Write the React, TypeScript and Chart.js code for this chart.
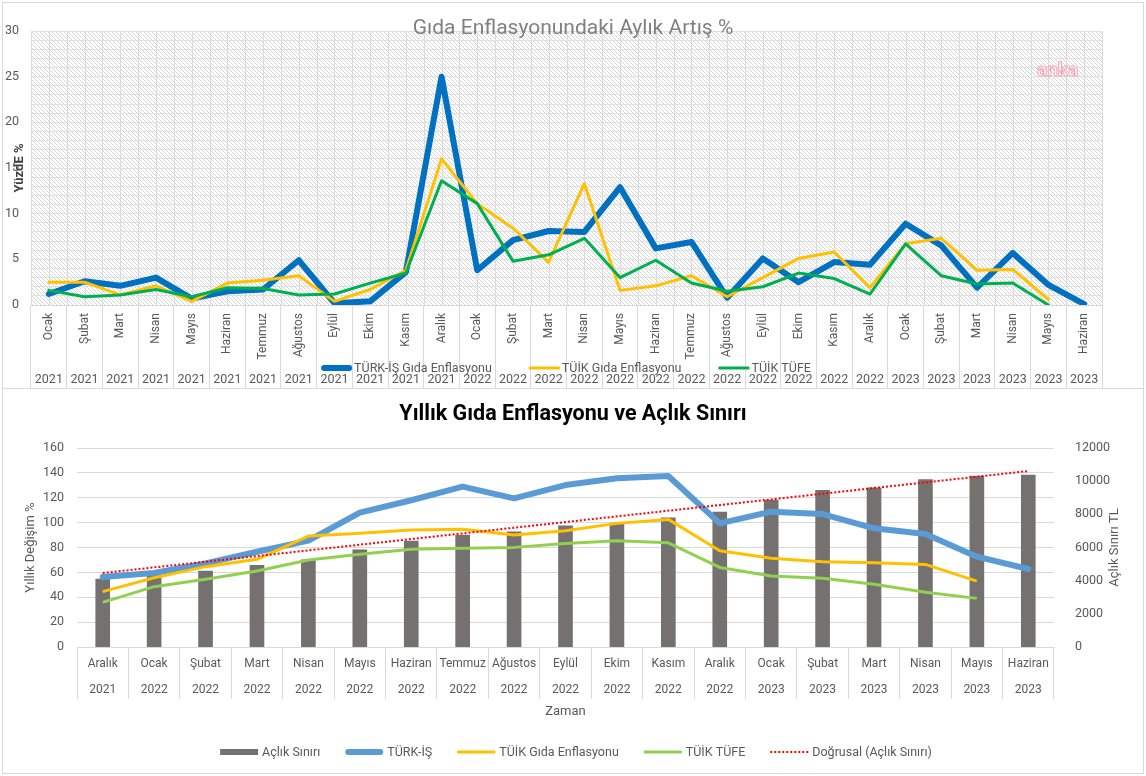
import React, { useEffect, useRef } from "react";
import { Chart, registerables } from "chart.js";

Chart.register(...registerables);
Chart.defaults.font.family = "Roboto, 'Noto Sans', sans-serif";

// ---------- Top chart data (monthly % change) ----------
const topMonths = [
  "Ocak", "Şubat", "Mart", "Nisan", "Mayıs", "Haziran", "Temmuz", "Ağustos", "Eylül", "Ekim", "Kasım", "Aralık",
  "Ocak", "Şubat", "Mart", "Nisan", "Mayıs", "Haziran", "Temmuz", "Ağustos", "Eylül", "Ekim", "Kasım", "Aralık",
  "Ocak", "Şubat", "Mart", "Nisan", "Mayıs", "Haziran",
];
const topYears = [
  "2021", "2021", "2021", "2021", "2021", "2021", "2021", "2021", "2021", "2021", "2021", "2021",
  "2022", "2022", "2022", "2022", "2022", "2022", "2022", "2022", "2022", "2022", "2022", "2022",
  "2023", "2023", "2023", "2023", "2023", "2023",
];
const turkIsMonthly = [
  1.2, 2.6, 2.1, 3.0, 0.7, 1.5, 1.7, 4.9, 0.2, 0.4, 3.6, 25.0,
  3.8, 7.1, 8.1, 8.0, 12.9, 6.2, 6.9, 0.8, 5.1, 2.5, 4.7, 4.4,
  8.9, 6.5, 1.9, 5.7, 2.2, 0.1,
];
const tuikFoodMonthly = [
  2.5, 2.5, 1.1, 2.1, 0.4, 2.4, 2.7, 3.2, 0.4, 1.7, 3.8, 16.0,
  11.1, 8.4, 4.7, 13.3, 1.6, 2.1, 3.2, 0.9, 3.0, 5.1, 5.8, 1.9,
  6.7, 7.3, 3.8, 3.9, 0.6, null,
];
const tuikCpiMonthly = [
  1.6, 0.9, 1.1, 1.7, 0.9, 1.9, 1.8, 1.1, 1.2, 2.4, 3.5, 13.6,
  11.1, 4.8, 5.5, 7.3, 3.0, 4.9, 2.4, 1.5, 2.0, 3.5, 2.9, 1.2,
  6.7, 3.2, 2.3, 2.4, 0.0, null,
];

// ---------- Bottom chart data (annual % change & hunger line) ----------
const botMonths = [
  "Aralık", "Ocak", "Şubat", "Mart", "Nisan", "Mayıs", "Haziran", "Temmuz", "Ağustos", "Eylül",
  "Ekim", "Kasım", "Aralık", "Ocak", "Şubat", "Mart", "Nisan", "Mayıs", "Haziran",
];
const botYears = [
  "2021", "2022", "2022", "2022", "2022", "2022", "2022", "2022", "2022", "2022",
  "2022", "2022", "2022", "2023", "2023", "2023", "2023", "2023", "2023",
];
const hungerLine = [
  4100, 4340, 4580, 4930, 5250, 5860, 6390, 6750, 6940, 7300,
  7480, 7790, 8130, 8860, 9440, 9600, 10090, 10310, 10360,
];
const turkIsAnnual = [
  56.3, 59.5, 67.2, 76.6, 85.5, 108.0, 118.0, 128.9, 119.5, 130.2,
  135.6, 137.5, 99.4, 108.8, 106.9, 95.4, 90.8, 72.6, 62.7,
];
const tuikFoodAnnual = [
  44.5, 55.7, 64.6, 70.5, 89.2, 91.4, 94.0, 94.6, 90.0, 93.5,
  99.4, 102.6, 77.4, 71.3, 68.6, 67.8, 66.4, 53.0, null,
];
const tuikCpiAnnual = [
  35.9, 48.5, 54.4, 61.1, 69.9, 74.5, 78.5, 79.3, 80.1, 83.3,
  85.4, 83.8, 64.0, 57.1, 55.2, 50.4, 44.0, 39.1, null,
];
const trendHunger = [
  4460, null, null, null, null, null, null, null, null, null,
  null, null, null, null, null, null, null, null, 10610,
];

const AXIS_COLOR = "#595959";
const GRID = "#d9d9d9";

function makeHatch(): CanvasPattern | string {
  const p = document.createElement("canvas");
  p.width = 8;
  p.height = 8;
  const c = p.getContext("2d");
  if (!c) return "#f4f4f4";
  c.fillStyle = "#ffffff";
  c.fillRect(0, 0, 8, 8);
  c.fillStyle = "#d6d6d6";
  for (let i = 0; i < 8; i++) {
    c.fillRect(i, i, 1, 1);
    c.fillRect(i, (i + 4) % 8, 1, 1);
  }
  const pat = c.createPattern(p, "repeat");
  return pat || "#f4f4f4";
}

type LegendOpts = {
  cx: number;
  cy: number;
  font: string;
  swatch: number;
  textGap: number;
  itemGap: number;
  color: string;
};

function drawLegend(chart: any, o: LegendOpts) {
  const ctx: CanvasRenderingContext2D = chart.ctx;
  ctx.save();
  ctx.font = o.font;
  const items = chart.data.datasets.map((ds: any) => ({ ds, w: ctx.measureText(ds.label).width }));
  const total =
    items.reduce((s: number, it: any) => s + o.swatch + o.textGap + it.w, 0) + o.itemGap * (items.length - 1);
  let x = o.cx - total / 2;
  ctx.textBaseline = "middle";
  ctx.textAlign = "left";
  for (const it of items) {
    const ds = it.ds;
    if (ds.type === "bar") {
      ctx.fillStyle = ds.backgroundColor;
      ctx.fillRect(x, o.cy - 3, o.swatch, 6);
    } else {
      const thick = ds.borderWidth > 4;
      ctx.strokeStyle = ds.borderColor;
      ctx.lineWidth = ds.borderWidth;
      ctx.setLineDash(ds.borderDash || []);
      ctx.lineCap = thick ? "round" : "butt";
      const inset = thick ? ds.borderWidth / 2 : 0;
      ctx.beginPath();
      ctx.moveTo(x + inset, o.cy);
      ctx.lineTo(x + o.swatch - inset, o.cy);
      ctx.stroke();
      ctx.setLineDash([]);
    }
    ctx.fillStyle = o.color;
    ctx.fillText(ds.label, x + o.swatch + o.textGap, o.cy + 1);
    x += o.swatch + o.textGap + it.w + o.itemGap;
  }
  ctx.restore();
}

export default function App() {
  const topRef = useRef<HTMLCanvasElement>(null);
  const botRef = useRef<HTMLCanvasElement>(null);

  useEffect(() => {
    document.body.style.margin = "0";
    const hatch = makeHatch();

    const topDecor = {
      id: "topDecor",
      beforeDraw(chart: any) {
        const { ctx, chartArea: a } = chart;
        ctx.save();
        ctx.fillStyle = "#ffffff";
        ctx.fillRect(0, 0, chart.width, chart.height);
        ctx.fillStyle = hatch;
        ctx.fillRect(a.left, a.top, a.right - a.left, a.bottom - a.top);
        const n = chart.data.labels.length;
        const w = (a.right - a.left) / n;
        ctx.strokeStyle = "#dcdcdc";
        ctx.lineWidth = 1;
        for (let i = 0; i <= 2 * n; i++) {
          const x = Math.round(a.left + (i * w) / 2) + 0.5;
          ctx.beginPath();
          ctx.moveTo(x, a.top);
          ctx.lineTo(x, a.bottom);
          ctx.stroke();
        }
        ctx.restore();
      },
      afterDraw(chart: any) {
        const ctx: CanvasRenderingContext2D = chart.ctx;
        ctx.save();
        // title
        ctx.font = "21px Roboto, 'Noto Sans', sans-serif";
        ctx.fillStyle = "#808080";
        ctx.textAlign = "center";
        ctx.textBaseline = "middle";
        ctx.fillText("Gıda Enflasyonundaki Aylık Artış %", 573, 29);
        // watermark
        ctx.font = "bold 19px Roboto, 'Noto Sans', sans-serif";
        ctx.textAlign = "left";
        ctx.textBaseline = "alphabetic";
        ctx.fillStyle = "rgba(255,255,255,0.9)";
        ctx.fillText("anka", 1037, 76);
        ctx.strokeStyle = "#f2a5b5";
        ctx.lineWidth = 1;
        ctx.strokeText("anka", 1037, 76);
        ctx.restore();
        drawLegend(chart, {
          cx: 566,
          cy: 368,
          font: "12.5px Roboto, 'Noto Sans', sans-serif",
          swatch: 31,
          textGap: 2,
          itemGap: 37,
          color: AXIS_COLOR,
        });
      },
    };

    const topChart = new Chart(topRef.current as HTMLCanvasElement, {
      type: "line",
      data: {
        labels: topMonths,
        datasets: [
          {
            label: "TÜRK-İŞ Gıda Enflasyonu",
            data: turkIsMonthly,
            borderColor: "#0070c0",
            backgroundColor: "#0070c0",
            borderWidth: 6,
            pointRadius: 0,
            borderJoinStyle: "round",
            borderCapStyle: "round",
            order: 3,
          },
          {
            label: "TÜİK Gıda Enflasyonu",
            data: tuikFoodMonthly,
            borderColor: "#ffc000",
            backgroundColor: "#ffc000",
            borderWidth: 3,
            pointRadius: 0,
            borderJoinStyle: "round",
            borderCapStyle: "round",
            order: 2,
          },
          {
            label: "TÜİK TÜFE",
            data: tuikCpiMonthly,
            borderColor: "#00b050",
            backgroundColor: "#00b050",
            borderWidth: 3,
            pointRadius: 0,
            borderJoinStyle: "round",
            borderCapStyle: "round",
            order: 1,
          },
        ],
      } as any,
      options: {
        responsive: false,
        animation: false,
        events: [],
        layout: { autoPadding: false, padding: { top: 31, right: 44, left: 0, bottom: 0 } },
        plugins: { legend: { display: false }, tooltip: { enabled: false } },
        scales: {
          x: {
            type: "category",
            offset: true,
            grid: { offset: true, drawOnChartArea: false, drawTicks: true, tickLength: 83, color: GRID },
            border: { display: true, color: GRID },
            ticks: {
              autoSkip: false,
              maxRotation: 90,
              minRotation: 90,
              padding: -75,
              color: AXIS_COLOR,
              font: { size: 12 },
            },
            afterFit: (s: any) => {
              s.height = 60;
            },
          },
          x2: {
            type: "category",
            labels: topYears,
            position: "bottom",
            offset: true,
            grid: { display: false, drawTicks: false, tickLength: 0 },
            border: { display: false },
            ticks: { autoSkip: false, maxRotation: 0, padding: 7, color: AXIS_COLOR, font: { size: 12.5 } },
            afterFit: (s: any) => {
              s.height = 25;
            },
          },
          y: {
            min: 0,
            max: 30,
            grid: { color: "#e0e0e0", drawTicks: false },
            border: { display: false },
            ticks: {
              stepSize: 1,
              autoSkip: false,
              padding: 12,
              color: AXIS_COLOR,
              font: { size: 12.5 },
              callback: (v: any) => (Number(v) % 5 === 0 ? String(v) : ""),
            },
            title: {
              display: true,
              text: "YüzdE %",
              color: "#404040",
              font: { size: 13, weight: "bold" },
              padding: { top: 12, bottom: 0 },
            },
            afterFit: (s: any) => {
              s.width = 31;
            },
          },
        },
      } as any,
      plugins: [topDecor],
    });

    const botDecor = {
      id: "botDecor",
      beforeDraw(chart: any) {
        const { ctx } = chart;
        ctx.save();
        ctx.fillStyle = "#ffffff";
        ctx.fillRect(0, 0, chart.width, chart.height);
        ctx.restore();
      },
      afterDraw(chart: any) {
        const ctx: CanvasRenderingContext2D = chart.ctx;
        const a = chart.chartArea;
        ctx.save();
        ctx.font = "bold 21.5px Roboto, 'Noto Sans', sans-serif";
        ctx.fillStyle = "#000000";
        ctx.textAlign = "center";
        ctx.textBaseline = "middle";
        ctx.fillText("Yıllık Gıda Enflasyonu ve Açlık Sınırı", 573, 27);
        // right axis title (reads bottom-to-top)
        ctx.translate(1115, (a.top + a.bottom) / 2);
        ctx.rotate(-Math.PI / 2);
        ctx.font = "13px Roboto, 'Noto Sans', sans-serif";
        ctx.fillStyle = AXIS_COLOR;
        ctx.fillText("Açlık Sınırı TL", 0, 0);
        ctx.restore();
        drawLegend(chart, {
          cx: 576,
          cy: 364,
          font: "12.5px Roboto, 'Noto Sans', sans-serif",
          swatch: 38,
          textGap: 4,
          itemGap: 25,
          color: AXIS_COLOR,
        });
      },
    };

    const botChart = new Chart(botRef.current as HTMLCanvasElement, {
      type: "bar",
      data: {
        labels: botMonths.map((m, i) => [m, botYears[i]]),
        datasets: [
          {
            type: "bar",
            label: "Açlık Sınırı",
            data: hungerLine,
            yAxisID: "y1",
            backgroundColor: "#767171",
            barThickness: 14,
            order: 5,
          },
          {
            type: "line",
            label: "TÜRK-İŞ",
            data: turkIsAnnual,
            yAxisID: "y",
            borderColor: "#5b9bd5",
            backgroundColor: "#5b9bd5",
            borderWidth: 6,
            pointRadius: 0,
            borderJoinStyle: "round",
            borderCapStyle: "round",
            order: 4,
          },
          {
            type: "line",
            label: "TÜİK Gıda Enflasyonu",
            data: tuikFoodAnnual,
            yAxisID: "y",
            borderColor: "#ffc000",
            backgroundColor: "#ffc000",
            borderWidth: 3,
            pointRadius: 0,
            borderJoinStyle: "round",
            order: 3,
          },
          {
            type: "line",
            label: "TÜİK TÜFE",
            data: tuikCpiAnnual,
            yAxisID: "y",
            borderColor: "#92d050",
            backgroundColor: "#92d050",
            borderWidth: 3,
            pointRadius: 0,
            borderJoinStyle: "round",
            order: 2,
          },
          {
            type: "line",
            label: "Doğrusal (Açlık Sınırı)",
            data: trendHunger,
            yAxisID: "y1",
            spanGaps: true,
            borderColor: "#ff0000",
            backgroundColor: "#ff0000",
            borderWidth: 2,
            borderDash: [2, 2],
            pointRadius: 0,
            order: 1,
          },
        ],
      } as any,
      options: {
        responsive: false,
        animation: false,
        events: [],
        layout: { autoPadding: false, padding: { top: 60, right: 0, left: 0, bottom: 52 } },
        plugins: { legend: { display: false }, tooltip: { enabled: false } },
        scales: {
          x: {
            offset: true,
            grid: { offset: true, drawOnChartArea: false, drawTicks: true, tickLength: 52, color: GRID },
            border: { display: true, color: GRID },
            ticks: {
              autoSkip: false,
              maxRotation: 0,
              padding: -48,
              color: AXIS_COLOR,
              font: { size: 12, lineHeight: "26px" },
            },
            title: {
              display: true,
              text: "Zaman",
              color: AXIS_COLOR,
              font: { size: 13 },
              padding: { top: 0, bottom: 4 },
            },
            afterFit: (s: any) => {
              s.height = 77;
            },
          },
          y: {
            position: "left",
            min: 0,
            max: 160,
            grid: { color: GRID, drawTicks: false },
            border: { display: false },
            ticks: { stepSize: 20, padding: 13, color: AXIS_COLOR, font: { size: 12.5 } },
            title: {
              display: true,
              text: "Yıllık Değişim %",
              color: AXIS_COLOR,
              font: { size: 13 },
              padding: { top: 23, bottom: 0 },
            },
            afterFit: (s: any) => {
              s.width = 77;
            },
          },
          y1: {
            position: "right",
            min: 0,
            max: 12000,
            grid: { display: false },
            border: { display: false },
            ticks: {
              stepSize: 2000,
              padding: 13,
              color: AXIS_COLOR,
              font: { size: 12.5 },
              callback: (v: any) => String(v),
            },
            afterFit: (s: any) => {
              s.width = 92;
            },
          },
        },
      } as any,
      plugins: [botDecor],
    });

    return () => {
      topChart.destroy();
      botChart.destroy();
    };
  }, []);

  const box: React.CSSProperties = {
    position: "absolute",
    left: 2,
    width: 1142,
    border: "1px solid #d9d9d9",
    boxSizing: "border-box",
    pointerEvents: "none",
  };

  return (
    <div style={{ position: "relative", width: 1146, height: 776, background: "#ffffff" }}>
      <canvas ref={topRef} width={1146} height={390} style={{ position: "absolute", left: 0, top: 0 }} />
      <canvas ref={botRef} width={1146} height={388} style={{ position: "absolute", left: 0, top: 388 }} />
      <div style={{ ...box, top: 2, height: 387 }} />
      <div style={{ ...box, top: 388, height: 386 }} />
    </div>
  );
}
